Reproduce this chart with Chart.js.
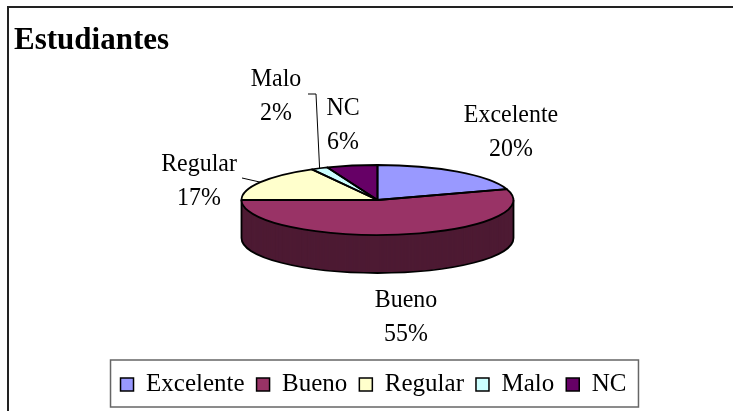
<!DOCTYPE html>
<html>
<head>
<meta charset="utf-8">
<script src="https://cdn.jsdelivr.net/npm/chart.js@4/dist/chart.umd.min.js"></script>
<style>
  html, body { margin: 0; padding: 0; background: #fff; }
  canvas { display: block; }
</style>
</head>
<body>
<canvas id="myChart" width="733" height="411"></canvas>
<script>
// data
const categories = ['Excelente', 'Bueno', 'Regular', 'Malo', 'NC'];
const values = [20, 55, 17, 2, 6];

// styles
const colors = ['#9999FF', '#993366', '#FFFFCC', '#CCFFFF', '#660066'];
const sideColors = ['#4D4D80', '#4D1A33', '#808066', '#668080', '#330033'];
const FONT = 'Liberation Serif, Times New Roman, serif';

// 3d pie geometry (ellipse on screen)
const pie = { cx: 377.5, cy: 200, rx: 136, ry: 35, depth: 38 };

// label anchors: center x, first baseline; leader start points
const labelPos = [
  { x: 511, y: 122 },
  { x: 406, y: 307 },
  { x: 199, y: 171, leader: [[242, 178]] },
  { x: 276, y: 86, leader: [[308, 94], [316, 94]] },
  { x: 343, y: 115 },
];
const lineGap = 33.5;

const total = values.reduce((a, b) => a + b, 0);

function ellipsePoint(angle, dy = 0) {
  return [pie.cx + pie.rx * Math.cos(angle), pie.cy + dy + pie.ry * Math.sin(angle)];
}

function narrowText(ctx, text, x, y) {
  ctx.save();
  ctx.translate(x, y);
  ctx.scale(0.92, 1);
  ctx.fillText(text, 0, 0);
  ctx.restore();
}

// draws the arcs of the pie as a tilted disc
const pie3d = {
  id: 'pie3d',
  beforeDatasetsDraw(chart) {
    const ctx = chart.ctx;
    const arcs = chart.getDatasetMeta(0).data;
    const r = arcs[0].outerRadius;
    const sx = pie.rx / r;
    const sy = pie.ry / r;

    const drawArc = (arc, dy, color) => {
      const fake = Object.create(arc);
      fake.options = Object.assign({}, arc.options, { backgroundColor: color, borderWidth: 0 });
      ctx.save();
      ctx.translate(pie.cx, pie.cy + dy);
      ctx.scale(sx, sy);
      ctx.translate(-arc.x, -arc.y);
      fake.draw(ctx);
      ctx.restore();
    };

    // side walls, only for slices reaching the front half
    const front = arcs.map((arc) => {
      const s = arc.startAngle, e = arc.endAngle;
      for (let k = -1; k <= 1; k++) {
        const a0 = k * 2 * Math.PI, a1 = a0 + Math.PI;
        if (e > a0 && s < a1) return true;
      }
      return false;
    });
    for (let dy = pie.depth; dy >= 1; dy--) {
      arcs.forEach((arc, i) => { if (front[i]) drawArc(arc, dy, sideColors[i]); });
    }

    ctx.save();
    ctx.strokeStyle = '#000';
    ctx.lineWidth = 1.8;
    ctx.lineJoin = 'round';
    ctx.beginPath();
    ctx.ellipse(pie.cx, pie.cy + pie.depth, pie.rx, pie.ry, 0, 0, Math.PI);
    ctx.stroke();
    ctx.beginPath();
    ctx.moveTo(pie.cx - pie.rx, pie.cy);
    ctx.lineTo(pie.cx - pie.rx, pie.cy + pie.depth);
    ctx.moveTo(pie.cx + pie.rx, pie.cy);
    ctx.lineTo(pie.cx + pie.rx, pie.cy + pie.depth);
    ctx.stroke();
    ctx.restore();

    // top surface
    arcs.forEach((arc, i) => drawArc(arc, 0, colors[i]));
    ctx.save();
    ctx.strokeStyle = '#000';
    ctx.lineWidth = 1.8;
    ctx.lineJoin = 'round';
    arcs.forEach((arc) => {
      ctx.beginPath();
      ctx.moveTo(pie.cx, pie.cy);
      ctx.ellipse(pie.cx, pie.cy, pie.rx, pie.ry, 0, arc.startAngle, arc.endAngle);
      ctx.closePath();
      ctx.stroke();
    });
    ctx.restore();
    return false;
  },
  afterDraw(chart) {
    const ctx = chart.ctx;
    const arcs = chart.getDatasetMeta(0).data;

    // data labels
    ctx.save();
    ctx.fillStyle = '#000';
    ctx.font = '26px ' + FONT;
    ctx.textAlign = 'center';
    ctx.textBaseline = 'alphabetic';
    arcs.forEach((arc, i) => {
      const p = labelPos[i];
      narrowText(ctx, categories[i], p.x, p.y);
      narrowText(ctx, Math.round(values[i] / total * 100) + '%', p.x, p.y + lineGap);
      if (p.leader) {
        const mid = (arc.startAngle + arc.endAngle) / 2;
        const end = ellipsePoint(mid);
        ctx.strokeStyle = '#000';
        ctx.lineWidth = 1;
        ctx.beginPath();
        ctx.moveTo(p.leader[0][0], p.leader[0][1]);
        p.leader.slice(1).forEach(([x, y]) => ctx.lineTo(x, y));
        ctx.lineTo(end[0], end[1]);
        ctx.stroke();
      }
    });
    ctx.restore();

    // outer frame
    ctx.save();
    ctx.strokeStyle = '#222';
    ctx.lineWidth = 2;
    ctx.strokeRect(8, 7, 760, 440);
    // legend frame
    const boxes = chart.legend.legendHitBoxes;
    if (boxes && boxes.length) {
      const first = boxes[0];
      const last = boxes[boxes.length - 1];
      const left = first.left - 10;
      const right = last.left + last.width + 12;
      const top = first.top - 12;
      const bottom = first.top + first.height + 10;
      ctx.strokeStyle = '#666';
      ctx.lineWidth = 1.5;
      ctx.strokeRect(left, top, right - left, bottom - top);
    }
    ctx.restore();
  },
};

const data = {
  labels: categories,
  datasets: [{
    data: values,
    backgroundColor: colors,
    borderWidth: 0,
  }],
};

const config = {
  type: 'pie',
  data,
  options: {
    responsive: false,
    animation: false,
    events: [],
    layout: {
      padding: { left: 14, right: 0, top: 12, bottom: 4 },
    },
    plugins: {
      title: {
        display: true,
        text: 'Estudiantes',
        align: 'start',
        color: '#000',
        font: { family: FONT, size: 31, weight: 'bold' },
        padding: { top: 10, bottom: 10 },
      },
      legend: {
        position: 'bottom',
        labels: {
          color: '#000',
          font: { family: FONT, size: 25 },
          boxWidth: 13,
          boxHeight: 13,
          padding: 12,
          generateLabels(chart) {
            const base = Chart.overrides.pie.plugins.legend.labels.generateLabels(chart);
            return base.map((l) => ({ ...l, strokeStyle: '#000', lineWidth: 1.5 }));
          },
        },
      },
      tooltip: { enabled: false },
    },
  },
  plugins: [pie3d],
};

window.addEventListener('DOMContentLoaded', () => {
  const ctx = document.getElementById('myChart');
  const chart = new Chart(ctx, config);
});
</script>
</body>
</html>
